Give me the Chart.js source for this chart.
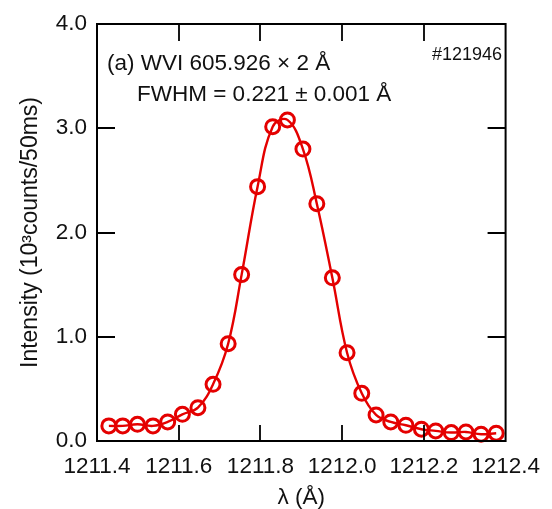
<!DOCTYPE html>
<html>
<head>
<meta charset="utf-8">
<script src="https://cdn.jsdelivr.net/npm/chart.js@4.4.1/dist/chart.umd.min.js"></script>
<style>
    html, body { margin: 0; padding: 0; background: #ffffff; }
    #box { width: 552px; height: 509px; }
</style>
</head>
<body>
<div id="box"><canvas id="lineChart"></canvas></div>
<script>
// data
const wavelength = [1211.429, 1211.463, 1211.499, 1211.537, 1211.573, 1211.609, 1211.647, 1211.684, 1211.721,
    1211.754, 1211.793, 1211.830, 1211.866, 1211.904, 1211.938, 1211.976, 1212.012, 1212.048, 1212.083,
    1212.119, 1212.156, 1212.194, 1212.229, 1212.267, 1212.303, 1212.340, 1212.377];
const intensity = [0.145, 0.145, 0.16, 0.145, 0.183, 0.256, 0.32, 0.544, 0.933,
    1.596, 2.44, 3.015, 3.08, 2.80, 2.276, 1.565, 0.847, 0.457, 0.25,
    0.183, 0.151, 0.113, 0.097, 0.081, 0.087, 0.065, 0.075];

const xTicks = [1211.4, 1211.6, 1211.8, 1212.0, 1212.2, 1212.4];
const yTicks = [0.0, 1.0, 2.0, 3.0, 4.0];

const labelLine1 = '(a) WVI 605.926 × 2 Å';
const labelLine2 = 'FWHM = 0.221 ± 0.001 Å';
const shotLabel = '#121946';

const FONT = '"Liberation Sans", Arial, sans-serif';
const RED = 'rgb(228,0,0)';

// frame, inward ticks and the text in the plot
const framePlugin = {
    id: 'framePlugin',
    afterDraw(chart) {
        const c = chart.ctx;
        const a = chart.chartArea;
        const x = chart.scales.x;
        const y = chart.scales.y;

        c.save();
        c.strokeStyle = '#000';
        c.lineWidth = 2;
        c.strokeRect(a.left, a.top, a.right - a.left, a.bottom - a.top);

        c.lineWidth = 1.8;
        c.beginPath();
        xTicks.slice(1, -1).forEach(v => {
            const px = Math.round(x.getPixelForValue(v));
            c.moveTo(px, a.bottom); c.lineTo(px, a.bottom - 16);
            c.moveTo(px, a.top); c.lineTo(px, a.top + 17);
        });
        yTicks.slice(1, -1).forEach(v => {
            const py = Math.round(y.getPixelForValue(v));
            c.moveTo(a.left, py); c.lineTo(a.left + 18, py);
            c.moveTo(a.right, py); c.lineTo(a.right - 18, py);
        });
        c.stroke();

        c.fillStyle = '#111';
        c.textBaseline = 'middle';
        c.textAlign = 'left';
        c.font = '22.5px ' + FONT;
        c.fillText(labelLine1, a.left + 10, a.top + 40);
        c.fillText(labelLine2, a.left + 40, a.top + 71);
        c.font = '18px ' + FONT;
        c.fillText(shotLabel, a.left + 335, a.top + 31);
        c.restore();
    }
};

const ctx = document.getElementById('lineChart');

new Chart(ctx, {
    type: 'scatter',

    data: {
        datasets: [
            {
                label: 'WVI',
                data: wavelength.map((w, i) => ({ x: w, y: intensity[i] })),
                showLine: true,
                borderColor: RED,
                borderWidth: 2.4,
                tension: 0.4,
                pointStyle: 'circle',
                pointRadius: 7,
                pointBorderWidth: 3,
                pointBorderColor: RED,
                pointBackgroundColor: 'rgba(0,0,0,0)',
                clip: false
            }
        ]
    },

    options: {
        responsive: true,
        maintainAspectRatio: false,
        animation: false,
        layout: {
            padding: { left: 0, right: 37, top: 24, bottom: 0 }
        },
        plugins: {
            legend: { display: false },
            tooltip: { enabled: false }
        },
        scales: {
            x: {
                type: 'linear',
                min: 1211.4,
                max: 1212.4,
                afterBuildTicks(scale) {
                    scale.ticks = xTicks.map(v => ({ value: v }));
                },
                afterFit(scale) {
                    scale.height = 68;
                },
                grid: { display: false, drawTicks: false },
                border: { display: false },
                ticks: {
                    color: '#111',
                    padding: 12,
                    maxRotation: 0,
                    font: { family: FONT, size: 22.5 },
                    callback: v => Number(v).toFixed(1)
                },
                title: {
                    display: true,
                    text: 'λ (Å)',
                    color: '#111',
                    padding: 0,
                    font: { family: FONT, size: 22.5, lineHeight: 1.0 }
                }
            },
            y: {
                type: 'linear',
                min: 0,
                max: 4,
                afterBuildTicks(scale) {
                    scale.ticks = yTicks.map(v => ({ value: v }));
                },
                afterFit(scale) {
                    scale.width = 97;
                },
                grid: { display: false, drawTicks: false },
                border: { display: false },
                ticks: {
                    color: '#111',
                    padding: 10,
                    font: { family: FONT, size: 22.5 },
                    callback: v => Number(v).toFixed(1)
                },
                title: {
                    display: true,
                    text: 'Intensity (10³counts/50ms)',
                    color: '#111',
                    padding: { top: 17, bottom: 0 },
                    font: { family: FONT, size: 23 }
                }
            }
        }
    },

    plugins: [framePlugin]
});
</script>
</body>
</html>
